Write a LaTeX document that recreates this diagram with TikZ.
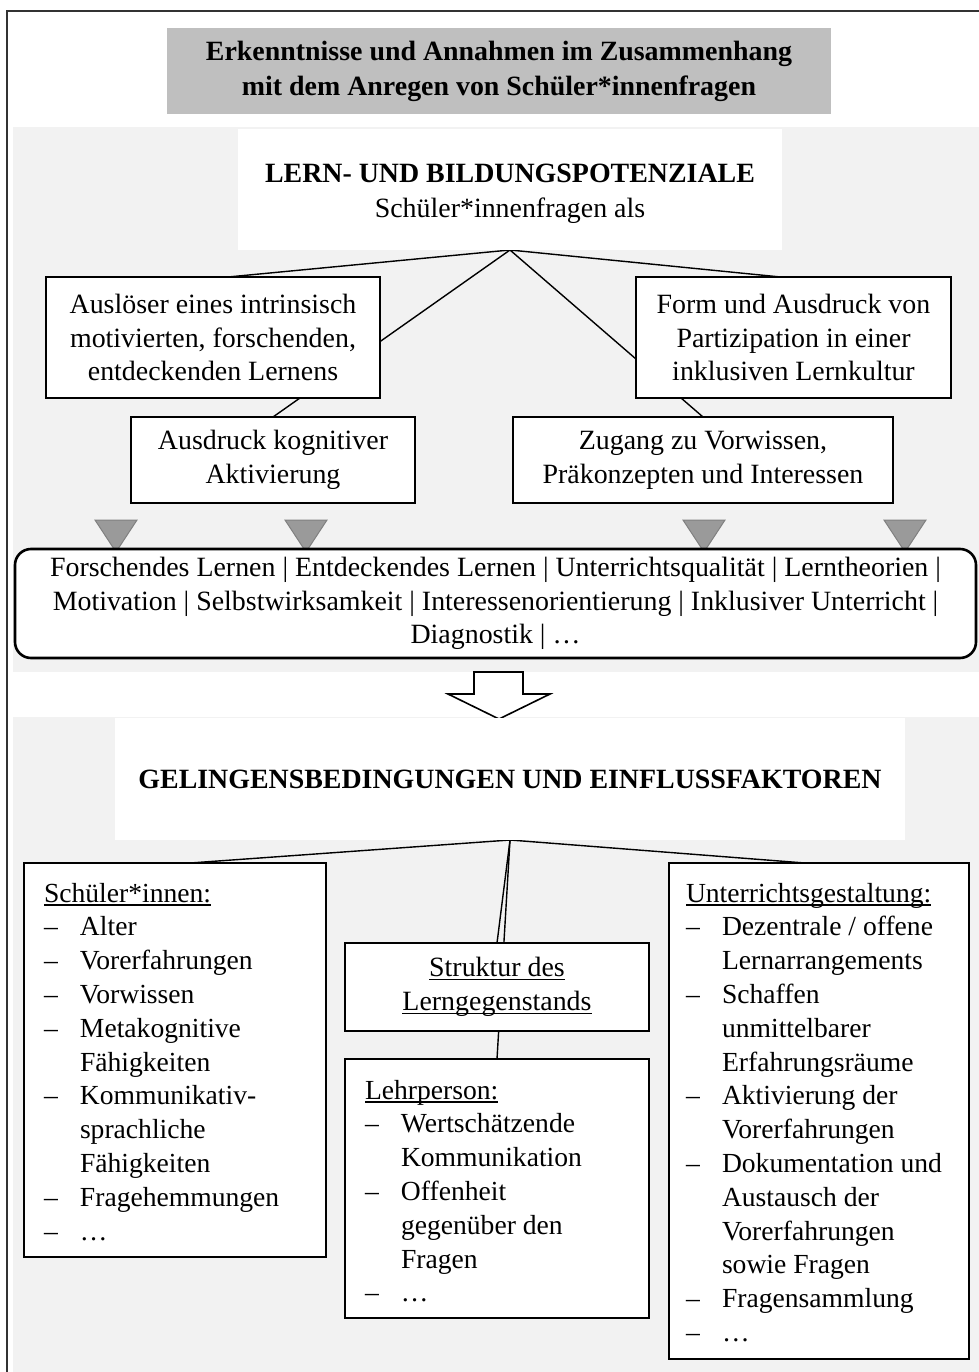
\documentclass[tikz,border=0pt]{standalone}
\usepackage{fontspec}
\setmainfont{Liberation Serif}
\usetikzlibrary{calc}
\definecolor{titlegray}{HTML}{BFBFBF}
\definecolor{regiongray}{HTML}{F2F2F2}
\definecolor{trifill}{HTML}{9A9A9A}
\definecolor{tridraw}{HTML}{808080}
\pgfdeclarelayer{bg}
\pgfdeclarelayer{lines}
\pgfsetlayers{bg,lines,main}
\newcommand\lidash{\makebox[36pt][l]{–}}
\newcommand\liind{\hspace*{36pt}}
\newsavebox\ulbox
\newcommand\myul[1]{\sbox\ulbox{#1}\rlap{\rule[-3.5pt]{\wd\ulbox}{1.2pt}}\usebox\ulbox}
\begin{document}
\begin{tikzpicture}[x=1pt,y=-1pt,
  every node/.style={inner sep=0pt, outer sep=0pt},
  txt/.style={font=\fontsize{27.9}{33.8}\selectfont, align=center},
  ttl/.style={font=\fontsize{27.9}{35}\selectfont, align=center},
  lst/.style={font=\fontsize{27.6}{33.8}\selectfont, align=left, anchor=north west},
  box/.style={draw, line width=2.6pt, fill=white},
  conn/.style={line width=1.4pt},
  tri/.style={fill=trifill, draw=tridraw, line width=1pt},
  blockarrow/.style={draw, line width=1.6pt, fill=white, line join=miter}
]
\useasboundingbox (0,0) rectangle (978,1372);
\begin{pgfonlayer}{bg}
  \fill[white] (0,0) rectangle (978,1372);
  \fill[regiongray] (13,127) rectangle (985,672);
  \fill[regiongray] (13,717) rectangle (985,1380);
\end{pgfonlayer}

% title
\node[fill=titlegray, minimum width=664, minimum height=86, ttl] (title) at (499,71)
  {\bfseries Erkenntnisse und Annahmen im Zusammenhang\\\bfseries mit dem Anregen von Schüler*innenfragen};

% upper section
\node[fill=white, minimum width=544, minimum height=121] (wb1) at (510,189.5) {};
\node[ttl] (wb1t) at (510,194) {{\bfseries LERN- UND BILDUNGSPOTENZIALE}\\Schüler*innenfragen als};

\node[box, minimum width=334, minimum height=121, txt] (ul) at (213,337.5)
  {Auslöser eines intrinsisch\\motivierten, forschenden,\\entdeckenden Lernens};
\node[box, minimum width=315, minimum height=121, txt] (ur) at (793.5,337.5)
  {Form und Ausdruck von\\Partizipation in einer\\inklusiven Lernkultur};
\node[box, minimum width=284, minimum height=86, txt] (ll) at (273,460)
  {Ausdruck kognitiver\\Aktivierung};
\node[box, minimum width=380, minimum height=86, txt] (lr) at (703,460)
  {Zugang zu Vorwissen,\\Präkonzepten und Interessen};

\foreach \cx in {116,306,704,905}
  \draw[tri] (\cx-21,520) -- (\cx+21,520) -- (\cx,552) -- cycle;

\node[box, rounded corners=16pt, minimum width=961, minimum height=109, txt] (rb) at (495.5,603.5)
  {Forschendes Lernen | Entdeckendes Lernen | Unterrichtsqualität | Lerntheorien |\\
   Motivation | Selbstwirksamkeit | Interessenorientierung | Inklusiver Unterricht |\\
   Diagnostik | …};

% block arrow
\draw[blockarrow] (474,672) -- (523,672) -- (523,694) -- (550,694) -- (499,719) -- (448,694) -- (474,694) -- cycle;

% lower section
\node[fill=white, minimum width=790, minimum height=122, ttl] (wb2) at (510,779)
  {\bfseries GELINGENSBEDINGUNGEN UND EINFLUSSFAKTOREN};

\node[box, minimum width=302, minimum height=394] (sb) at (175,1060) {};
\node[box, minimum width=300, minimum height=496] (ub) at (819,1111) {};
\node[box, minimum width=304, minimum height=88, txt] (st) at (497,987)
  {\myul{Struktur des}\\\myul{Lerngegenstands}};
\node[box, minimum width=304, minimum height=259] (lp) at (497,1188.5) {};

\node[lst] (sbt) at (44,883) {\myul{Schüler*innen:}\\
  \lidash Alter\\
  \lidash Vorerfahrungen\\
  \lidash Vorwissen\\
  \lidash Metakognitive\\
  \liind Fähigkeiten\\
  \lidash Kommunikativ-\\
  \liind sprachliche\\
  \liind Fähigkeiten\\
  \lidash Fragehemmungen\\
  \lidash …};

\node[lst] (ubt) at (686,883) {\myul{Unterrichtsgestaltung:}\\
  \lidash Dezentrale / offene\\
  \liind Lernarrangements\\
  \lidash Schaffen\\
  \liind unmittelbarer\\
  \liind Erfahrungsräume\\
  \lidash Aktivierung der\\
  \liind Vorerfahrungen\\
  \lidash Dokumentation und\\
  \liind Austausch der\\
  \liind Vorerfahrungen\\
  \liind sowie Fragen\\
  \lidash Fragensammlung\\
  \lidash …};

\node[lst] (lpt) at (365,1080) {\myul{Lehrperson:}\\
  \lidash Wertschätzende\\
  \liind Kommunikation\\
  \lidash Offenheit\\
  \liind gegenüber den\\
  \liind Fragen\\
  \lidash …};

% connectors
\coordinate (a1) at (wb1.south);
\coordinate (a2) at (wb2.south);
\begin{pgfonlayer}{lines}
  \draw[conn] (a1) -- ([xshift=15pt]ul.north);
  \draw[conn] (a1) -- ([xshift=-13pt]ur.north);
  \draw[conn] (a1) -- (ll.north);
  \draw[conn] (a1) -- (lr.north);
  \draw[conn] (a2) -- ([xshift=15pt]sb.north);
  \draw[conn] (a2) -- ([xshift=-14pt]ub.north);
  \draw[conn] (a2) -- (st.north);
  \draw[conn] (a2) -- (lp.north);
\end{pgfonlayer}

% frame
\draw[line width=1.6pt, black!80] (7,11) rectangle (990,1390);
\end{tikzpicture}
\end{document}
